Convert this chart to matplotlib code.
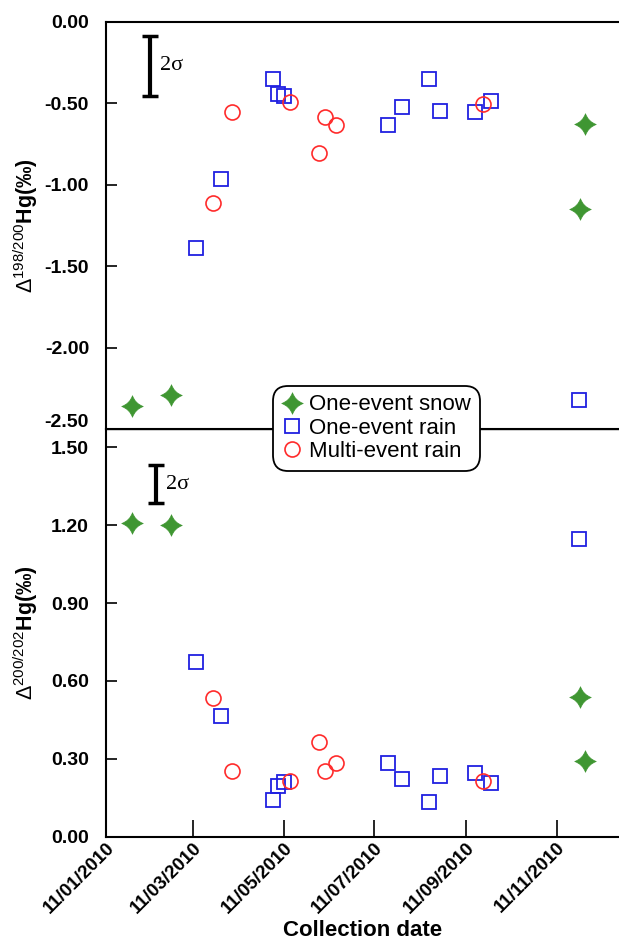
import numpy as np
import matplotlib
matplotlib.use("Agg")
import matplotlib.pyplot as plt
import matplotlib.dates as mdates
from matplotlib.path import Path
from matplotlib.transforms import ScaledTranslation

# --- data ---
snow_dates = ["2010-01-29", "2010-02-24", "2010-11-27", "2010-11-30"]
snow_d198 = [-2.36, -2.29, -1.15, -0.63]
snow_d200 = [1.21, 1.20, 0.54, 0.29]

one_rain_dates = ["2010-03-13", "2010-03-30", "2010-05-04", "2010-05-07", "2010-05-11",
                  "2010-07-20", "2010-07-30", "2010-08-17", "2010-08-24", "2010-09-17",
                  "2010-09-28", "2010-11-26"]
one_rain_d198 = [-1.39, -0.965, -0.353, -0.444, -0.454, -0.634, -0.521, -0.353, -0.546,
                 -0.552, -0.485, -2.32]
one_rain_d200 = [0.672, 0.465, 0.143, 0.196, 0.21, 0.284, 0.224, 0.132, 0.235, 0.244,
                 0.206, 1.145]

multi_rain_dates = ["2010-03-24", "2010-04-06", "2010-05-15", "2010-06-04", "2010-06-08",
                    "2010-06-15", "2010-09-22"]
multi_rain_d198 = [-1.11, -0.554, -0.495, -0.805, -0.583, -0.634, -0.503]
multi_rain_d200 = [0.533, 0.254, 0.215, 0.364, 0.254, 0.284, 0.213]

tick_dates = ["2010-01-11", "2010-03-11", "2010-05-11", "2010-07-11", "2010-09-11", "2010-11-11"]
x_range = ["2010-01-11", "2010-12-23"]

# 2 sigma bars (center, half width) for each panel
sigma_top = (-0.27, 0.184)
sigma_bot = (1.358, 0.074)

plt.rcParams['font.family'] = ['Liberation Sans', 'DejaVu Sans']
plt.rcParams['mathtext.fontset'] = 'custom'
plt.rcParams['mathtext.rm'] = 'Liberation Sans'
plt.rcParams['mathtext.bf'] = 'Liberation Sans:bold'
plt.rcParams['mathtext.it'] = 'Liberation Sans:italic'

GREEN = '#3f9632'
BLUE = '#2020e0'
RED = '#ff2b2b'

# four pointed star with concave sides
c = 0.26
star_verts = [(0, 1), (c, c), (1, 0), (c, -c), (0, -1),
              (-c, -c), (-1, 0), (-c, c), (0, 1), (0, 1)]
star_codes = [Path.MOVETO] + [Path.CURVE3] * 8 + [Path.CLOSEPOLY]
star = Path(star_verts, star_codes)


def to_dt(lst):
    return np.array(lst, dtype='datetime64[D]')


fig = plt.figure(figsize=(6.19, 9.41), dpi=100)
ax1 = fig.add_axes([0.1709, 0.5438, 0.8291, 0.4331])
ax2 = fig.add_axes([0.1709, 0.1108, 0.8291, 0.4330])

series = [
    (snow_dates, snow_d198, snow_d200, dict(marker=star, ms=15.5, mfc=GREEN, mec=GREEN, mew=0.5),
     "One-event snow"),
    (one_rain_dates, one_rain_d198, one_rain_d200, dict(marker='s', ms=9.4, mfc='none', mec=BLUE, mew=1.3),
     "One-event rain"),
    (multi_rain_dates, multi_rain_d198, multi_rain_d200, dict(marker='o', ms=10.8, mfc='none', mec=RED, mew=1.2),
     "Multi-event rain"),
]

handles = []
for dates, top, bot, style, label in series:
    h, = ax1.plot(to_dt(dates), top, linestyle='none', label=label, **style)
    ax2.plot(to_dt(dates), bot, linestyle='none', **style)
    handles.append(h)

for ax in (ax1, ax2):
    ax.set_xlim(to_dt(x_range))
    ax.spines['right'].set_visible(False)
    for s in ax.spines.values():
        s.set_linewidth(1.5)
    ax.tick_params(direction='in', length=8, width=1.2, labelsize=14, pad=12)

ax1.set_ylim(-2.5, 0)
ax1.set_yticks([0, -0.5, -1.0, -1.5, -2.0, -2.5])
ax1.set_yticklabels(['0.00', '-0.50', '-1.00', '-1.50', '-2.00', '-2.50'], fontweight='bold')
ax1.tick_params(axis='x', bottom=False, labelbottom=False)
ax1.set_ylabel(r'$\Delta^{198/200}\mathbf{Hg(‰)}$', fontsize=15.5)
ax1.yaxis.set_label_coords(-0.128, 0.5)
# nudge the lowest label up a little, as in the original
last = ax1.get_yticklabels()[-1]
last.set_transform(last.get_transform() + ScaledTranslation(0, 9 / 100, fig.dpi_scale_trans))

ax2.set_ylim(0, 1.569)
ax2.set_yticks([0, 0.3, 0.6, 0.9, 1.2, 1.5])
ax2.set_yticklabels(['0.00', '0.30', '0.60', '0.90', '1.20', '1.50'], fontweight='bold')
ax2.spines['top'].set_linewidth(1.0)
ax2.set_xticks(to_dt(tick_dates))
ax2.xaxis.set_major_formatter(mdates.DateFormatter('%d/%m/%Y'))
for lab in ax2.get_xticklabels():
    lab.set_rotation(45)
    lab.set_ha('right')
    lab.set_va('top')
    lab.set_rotation_mode('anchor')
    lab.set_fontweight('bold')
    lab.set_fontsize(13.5)
ax2.tick_params(axis='x', length=12, pad=2)
ax2.set_ylabel(r'$\Delta^{200/202}\mathbf{Hg(‰)}$', fontsize=15.5)
ax2.yaxis.set_label_coords(-0.128, 0.5)
ax2.set_xlabel('Collection date', fontsize=16, fontweight='bold', labelpad=2)

# 2 sigma markers
for ax, (cen, hw), xd in ((ax1, sigma_top, "2010-02-10"), (ax2, sigma_bot, "2010-02-14")):
    ax.errorbar(to_dt([xd]), [cen], yerr=[hw], fmt='none', ecolor='black', elinewidth=3,
                capsize=5.5, capthick=2.5)
    ax.annotate('2σ', xy=(to_dt([xd])[0], cen), xytext=(7, 0), textcoords='offset points',
                va='center', ha='left', fontsize=16, family='Liberation Serif')

leg = fig.legend(handles=handles, loc='center', bbox_to_anchor=(0.608, 0.545), fontsize=16,
                 frameon=True, fancybox=True, framealpha=1, edgecolor='black',
                 handlelength=0.9, handletextpad=0.35, labelspacing=0.1, borderpad=0.4,
                 numpoints=1)
leg.get_frame().set_linewidth(1.3)
leg.get_frame().set_boxstyle('round,pad=0,rounding_size=0.7')

fig.savefig('out.png', dpi=100)
